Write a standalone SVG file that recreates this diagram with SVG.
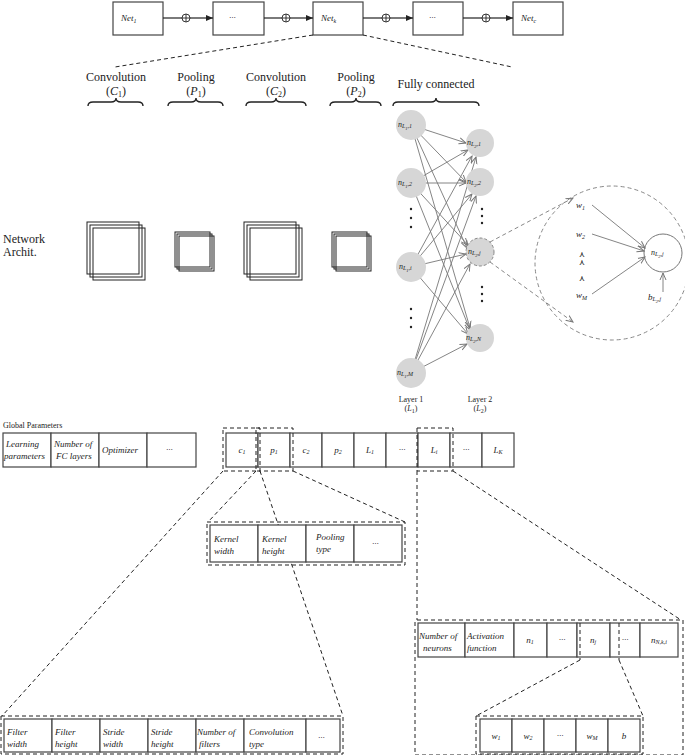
<svg xmlns="http://www.w3.org/2000/svg" width="685" height="755" viewBox="0 0 685 755">
<style>
text{font-family:"Liberation Serif",serif;fill:#222}
.i{font-style:italic;font-size:9px}
.s{font-size:12px}
.b{fill:#fff;stroke:#444;stroke-width:1.2}
.d{fill:none;stroke:#222;stroke-dasharray:4,3;stroke-width:1}
.g{fill:none;stroke:#888;stroke-dasharray:4,3;stroke-width:1}
.e{stroke:#777;stroke-width:0.9;marker-end:url(#ga)}
.n{fill:#d6d6d6}
.sq{fill:none;stroke:#222;stroke-width:1}
.br{fill:none;stroke:#222;stroke-width:1.4}
.nl{font-style:italic;font-size:8px}
</style>
<defs>
<marker id="a" markerWidth="8" markerHeight="8" refX="7" refY="4" orient="auto" markerUnits="userSpaceOnUse"><path d="M0,1 L7,4 L0,7 Z" fill="#222"/></marker>
<marker id="ga" markerWidth="8" markerHeight="8" refX="7" refY="4" orient="auto" markerUnits="userSpaceOnUse"><path d="M0,1 L7,4 L0,7" fill="none" stroke="#777"/></marker>
</defs>
<g id="top">
<rect class="b" x="113" y="2" width="50" height="33"/><text class="i" x="121" y="21">Net<tspan font-size="6" dy="2">1</tspan></text>
<rect class="b" x="213" y="2" width="51" height="33"/><text class="i" x="229" y="20">···</text>
<rect class="b" x="313" y="2" width="50" height="33"/><text class="i" x="321" y="21">Net<tspan font-size="6" dy="2">k</tspan></text>
<rect class="b" x="413" y="2" width="50" height="33"/><text class="i" x="429" y="20">···</text>
<rect class="b" x="513" y="2" width="50" height="33"/><text class="i" x="521" y="21">Net<tspan font-size="6" dy="2">c</tspan></text>
</g>
<g id="connectors" stroke="#222" stroke-width="1.2" fill="none">
<line x1="163" y1="18" x2="182" y2="18"/><line x1="190" y1="18" x2="213" y2="18" marker-end="url(#a)"/>
<line x1="264" y1="18" x2="282" y2="18"/><line x1="290" y1="18" x2="313" y2="18" marker-end="url(#a)"/>
<line x1="363" y1="18" x2="382" y2="18"/><line x1="390" y1="18" x2="413" y2="18" marker-end="url(#a)"/>
<line x1="463" y1="18" x2="482" y2="18"/><line x1="490" y1="18" x2="513" y2="18" marker-end="url(#a)"/>
<g stroke-width="0.9"><circle cx="186" cy="18" r="4"/><path d="M182,18h8M186,14v8"/><circle cx="286" cy="18" r="4"/><path d="M282,18h8M286,14v8"/><circle cx="386" cy="18" r="4"/><path d="M382,18h8M386,14v8"/><circle cx="486" cy="18" r="4"/><path d="M482,18h8M486,14v8"/></g>
<line class="d" x1="313" y1="35" x2="115" y2="67"/><line class="d" x1="363" y1="35" x2="512" y2="67"/>
</g>
<g id="layers">
<text class="s" x="116" y="81" text-anchor="middle">Convolution</text><text class="s" x="116" y="95" text-anchor="middle">(<tspan font-style="italic">C</tspan><tspan font-size="8" dy="2">1</tspan><tspan dy="-2">)</tspan></text>
<text class="s" x="196" y="81" text-anchor="middle">Pooling</text><text class="s" x="196" y="95" text-anchor="middle">(<tspan font-style="italic">P</tspan><tspan font-size="8" dy="2">1</tspan><tspan dy="-2">)</tspan></text>
<text class="s" x="276" y="81" text-anchor="middle">Convolution</text><text class="s" x="276" y="95" text-anchor="middle">(<tspan font-style="italic">C</tspan><tspan font-size="8" dy="2">2</tspan><tspan dy="-2">)</tspan></text>
<text class="s" x="356" y="81" text-anchor="middle">Pooling</text><text class="s" x="356" y="95" text-anchor="middle">(<tspan font-style="italic">P</tspan><tspan font-size="8" dy="2">2</tspan><tspan dy="-2">)</tspan></text>
<text class="s" x="436" y="88" text-anchor="middle">Fully connected</text>
<path class="br" d="M88,106q0,-4 5,-4h18q5,0 5,-4q0,4 5,4h17q5,0 5,4"/>
<path class="br" d="M168,106q0,-4 5,-4h18q5,0 5,-4q0,4 5,4h17q5,0 5,4"/>
<path class="br" d="M246,106q0,-4 5,-4h20q5,0 5,-4q0,4 5,4h20q5,0 5,4"/>
<path class="br" d="M330,106q0,-4 5,-4h16q5,0 5,-4q0,4 5,4h15q5,0 5,4"/>
<path class="br" d="M393,106q0,-4 5,-4h33q5,0 5,-4q0,4 5,4h33q5,0 5,4"/>
<text class="s" x="3" y="243">Network</text><text class="s" x="3" y="256">Archit.</text>
<rect class="sq" x="87" y="222" width="52" height="52"/><rect class="sq" x="90" y="225" width="52" height="52"/><rect class="sq" x="93" y="228" width="52" height="52"/>
<rect class="sq" x="175" y="232" width="35" height="35"/><rect class="sq" x="177" y="234" width="35" height="35"/><rect class="sq" x="179" y="236" width="35" height="35"/>
<rect class="sq" x="244" y="222" width="52" height="52"/><rect class="sq" x="247" y="225" width="52" height="52"/><rect class="sq" x="250" y="228" width="52" height="52"/>
<rect class="sq" x="332" y="232" width="35" height="35"/><rect class="sq" x="334" y="234" width="35" height="35"/><rect class="sq" x="336" y="236" width="35" height="35"/>
</g>
<g id="fc-edges">
<line class="e" x1="411" y1="125" x2="466" y2="143"/><line class="e" x1="411" y1="125" x2="466" y2="182"/><line class="e" x1="411" y1="125" x2="467" y2="248"/><line class="e" x1="411" y1="125" x2="470" y2="328"/>
<line class="e" x1="411" y1="183" x2="468" y2="150"/><line class="e" x1="411" y1="183" x2="466" y2="183"/><line class="e" x1="411" y1="183" x2="468" y2="245"/><line class="e" x1="411" y1="183" x2="470" y2="330"/>
<line class="e" x1="411" y1="267" x2="472" y2="156"/><line class="e" x1="411" y1="267" x2="472" y2="194"/><line class="e" x1="411" y1="267" x2="466" y2="254"/><line class="e" x1="411" y1="267" x2="468" y2="334"/>
<line class="e" x1="411" y1="373" x2="476" y2="157"/><line class="e" x1="411" y1="373" x2="476" y2="196"/><line class="e" x1="411" y1="373" x2="470" y2="264"/><line class="e" x1="411" y1="373" x2="467" y2="344"/>
</g>
<g id="fc-nodes" font-size="8">
<circle class="n" cx="411" cy="125" r="15"/><text class="nl" x="398" y="127">n<tspan font-size="6" dy="1">L</tspan><tspan font-size="4.5" dy="1.5">1</tspan><tspan font-size="6" dy="-1.5">,1</tspan></text>
<circle class="n" cx="411" cy="183" r="15"/><text class="nl" x="398" y="185">n<tspan font-size="6" dy="1">L</tspan><tspan font-size="4.5" dy="1.5">1</tspan><tspan font-size="6" dy="-1.5">,2</tspan></text>
<circle class="n" cx="411" cy="267" r="15"/><text class="nl" x="399" y="269">n<tspan font-size="6" dy="1">L</tspan><tspan font-size="4.5" dy="1.5">1</tspan><tspan font-size="6" dy="-1.5">,i</tspan></text>
<circle class="n" cx="411" cy="373" r="15"/><text class="nl" x="397" y="375">n<tspan font-size="6" dy="1">L</tspan><tspan font-size="4.5" dy="1.5">1</tspan><tspan font-size="6" dy="-1.5">,M</tspan></text>
<circle class="n" cx="480" cy="143" r="14"/><text class="nl" x="467" y="145">n<tspan font-size="6" dy="1">L</tspan><tspan font-size="4.5" dy="1.5">2</tspan><tspan font-size="6" dy="-1.5">,1</tspan></text>
<circle class="n" cx="480" cy="182" r="14"/><text class="nl" x="467" y="184">n<tspan font-size="6" dy="1">L</tspan><tspan font-size="4.5" dy="1.5">2</tspan><tspan font-size="6" dy="-1.5">,2</tspan></text>
<circle class="n" cx="480" cy="252" r="14" stroke="#888" stroke-dasharray="3,2"/><text class="nl" x="468" y="254">n<tspan font-size="6" dy="1">L</tspan><tspan font-size="4.5" dy="1.5">2</tspan><tspan font-size="6" dy="-1.5">,j</tspan></text>
<circle class="n" cx="480" cy="338" r="14"/><text class="nl" x="466" y="340">n<tspan font-size="6" dy="1">L</tspan><tspan font-size="4.5" dy="1.5">2</tspan><tspan font-size="6" dy="-1.5">,N</tspan></text>
<g fill="#222"><circle cx="411" cy="209" r="1.2"/><circle cx="411" cy="218" r="1.2"/><circle cx="411" cy="227" r="1.2"/><circle cx="411" cy="309" r="1.2"/><circle cx="411" cy="318" r="1.2"/><circle cx="411" cy="327" r="1.2"/><circle cx="482" cy="209" r="1.2"/><circle cx="482" cy="216" r="1.2"/><circle cx="482" cy="223" r="1.2"/><circle cx="482" cy="287" r="1.2"/><circle cx="482" cy="294" r="1.2"/><circle cx="482" cy="301" r="1.2"/></g>
<text x="411" y="402" text-anchor="middle" font-size="8">Layer 1</text><text x="411" y="411" text-anchor="middle" font-size="8">(<tspan font-style="italic">L</tspan><tspan font-size="6" dy="1.5">1</tspan><tspan dy="-1.5">)</tspan></text>
<text x="480" y="402" text-anchor="middle" font-size="8">Layer 2</text><text x="480" y="411" text-anchor="middle" font-size="8">(<tspan font-style="italic">L</tspan><tspan font-size="6" dy="1.5">2</tspan><tspan dy="-1.5">)</tspan></text>
</g>
<g id="neuron-zoom" font-size="9">
<circle class="g" cx="612" cy="263" r="77"/>
<line class="g" x1="490" y1="242" x2="573" y2="198" marker-end="url(#ga)"/><line class="g" x1="490" y1="262" x2="573" y2="322" marker-end="url(#ga)"/>
<circle cx="663" cy="253" r="19" fill="#fff" stroke="#777"/><text class="nl" x="651" y="255">n<tspan font-size="6" dy="1">L</tspan><tspan font-size="4.5" dy="1.5">2</tspan><tspan font-size="6" dy="-1.5">,j</tspan></text>
<text x="576" y="208" font-style="italic">w<tspan font-size="6" dy="1.5">1</tspan></text><text x="576" y="237" font-style="italic">w<tspan font-size="6" dy="1.5">2</tspan></text>
<text x="579" y="257" font-size="8">⋏</text><text x="579" y="265" font-size="8">⋏</text><text x="579" y="281" font-size="8">⋏</text>
<text x="576" y="298" font-style="italic">w<tspan font-size="6" dy="1.5">M</tspan></text>
<text x="648" y="300" font-style="italic">b<tspan font-size="6" dy="1">L</tspan><tspan font-size="4.5" dy="1.5">2</tspan><tspan font-size="6" dy="-1.5">,j</tspan></text>
<line class="e" x1="592" y1="205" x2="645" y2="248"/><line class="e" x1="592" y1="234" x2="644" y2="251"/><line class="e" x1="592" y1="294" x2="645" y2="257"/><line class="e" x1="663" y1="292" x2="663" y2="273"/>
</g>
<g id="params" font-size="9">
<text x="3" y="428" font-size="8">Global Parameters</text>
<rect class="b" x="3" y="433" width="48" height="34"/><rect class="b" x="51" y="433" width="48" height="34"/><rect class="b" x="99" y="433" width="48" height="34"/><rect class="b" x="147" y="433" width="49" height="34"/>
<text class="i" x="6" y="447">Learning</text><text class="i" x="4" y="459">parameters</text><text class="i" x="54" y="447">Number of</text><text class="i" x="56" y="459">FC layers</text><text class="i" x="102" y="453">Optimizer</text><text class="i" x="166" y="452">···</text>
<rect class="b" x="226" y="433" width="32" height="34"/><rect class="b" x="258" y="433" width="32" height="34"/><rect class="b" x="290" y="433" width="32" height="34"/><rect class="b" x="322" y="433" width="32" height="34"/><rect class="b" x="354" y="433" width="32" height="34"/><rect class="b" x="386" y="433" width="32" height="34"/><rect class="b" x="418" y="433" width="32" height="34"/><rect class="b" x="450" y="433" width="32" height="34"/><rect class="b" x="482" y="433" width="32" height="34"/>
<g class="i" text-anchor="middle"><text x="242" y="453">c<tspan font-size="6" dy="1">1</tspan></text><text x="274" y="453">p<tspan font-size="6" dy="1">1</tspan></text><text x="306" y="453">c<tspan font-size="6" dy="1">2</tspan></text><text x="338" y="453">p<tspan font-size="6" dy="1">2</tspan></text><text x="370" y="453">L<tspan font-size="6" dy="1">1</tspan></text><text x="402" y="452">···</text><text x="434" y="453">L<tspan font-size="6" dy="1">i</tspan></text><text x="466" y="452">···</text><text x="498" y="453">L<tspan font-size="6" dy="1">K</tspan></text></g>
<rect class="d" x="223" y="428" width="37" height="43"/><rect class="d" x="256" y="428" width="37" height="43"/><rect class="d" x="417" y="428" width="36" height="43"/>
<line class="d" x1="223" y1="471" x2="2" y2="716"/><line class="d" x1="260" y1="471" x2="343" y2="716"/>
<line class="d" x1="256" y1="471" x2="208" y2="522"/><line class="d" x1="293" y1="471" x2="405" y2="522"/>
<line class="d" x1="417" y1="471" x2="417" y2="620"/><line class="d" x1="453" y1="471" x2="681" y2="620"/>
<rect class="d" x="207" y="522" width="198" height="43"/>
<rect class="b" x="210" y="525" width="48" height="37"/><rect class="b" x="258" y="525" width="48" height="37"/><rect class="b" x="306" y="525" width="48" height="37"/><rect class="b" x="354" y="525" width="48" height="37"/>
<text class="i" x="214" y="542">Kernel</text><text class="i" x="214" y="554">width</text><text class="i" x="262" y="542">Kernel</text><text class="i" x="262" y="554">height</text><text class="i" x="316" y="540">Pooling</text><text class="i" x="316" y="552">type</text><text class="i" x="372" y="546">···</text>
<rect class="d" x="1" y="716" width="342" height="38"/>
<rect class="b" x="4" y="719" width="48" height="33"/><rect class="b" x="52" y="719" width="48" height="33"/><rect class="b" x="100" y="719" width="48" height="33"/><rect class="b" x="148" y="719" width="48" height="33"/><rect class="b" x="196" y="719" width="48" height="33"/><rect class="b" x="244" y="719" width="62" height="33"/><rect class="b" x="306" y="719" width="34" height="33"/>
<text class="i" x="7" y="735">Filter</text><text class="i" x="7" y="747">width</text><text class="i" x="55" y="735">Filter</text><text class="i" x="55" y="747">height</text><text class="i" x="103" y="735">Stride</text><text class="i" x="103" y="747">width</text><text class="i" x="151" y="735">Stride</text><text class="i" x="151" y="747">height</text><text class="i" x="197" y="735">Number of</text><text class="i" x="199" y="747">filters</text><text class="i" x="249" y="735">Convolution</text><text class="i" x="249" y="747">type</text><text class="i" x="318" y="740">···</text>
<path class="d" d="M417,620H683V755H415V620"/>
<rect class="b" x="418" y="623" width="47" height="34"/><rect class="b" x="465" y="623" width="49" height="34"/><rect class="b" x="514" y="623" width="33" height="34"/><rect class="b" x="547" y="623" width="30" height="34"/><rect class="b" x="577" y="623" width="33" height="34"/><rect class="b" x="610" y="623" width="30" height="34"/><rect class="b" x="640" y="623" width="38" height="34"/>
<text class="i" x="419" y="639">Number of</text><text class="i" x="423" y="651">neurons</text><text class="i" x="467" y="639">Activation</text><text class="i" x="467" y="651">function</text>
<g class="i" text-anchor="middle"><text x="530" y="643">n<tspan font-size="6" dy="1">1</tspan></text><text x="562" y="642">···</text><text x="593" y="643">n<tspan font-size="6" dy="1">j</tspan></text><text x="625" y="642">···</text><text x="659" y="643">n<tspan font-size="6" dy="1">N,k,i</tspan></text></g>
<line class="d" x1="580" y1="623" x2="580" y2="660"/><line class="d" x1="619" y1="623" x2="619" y2="660"/>
<line class="d" x1="580" y1="660" x2="476" y2="716"/><line class="d" x1="619" y1="660" x2="643" y2="716"/>
<rect class="d" x="476" y="716" width="167" height="38"/>
<rect class="b" x="480" y="719" width="32" height="33"/><rect class="b" x="512" y="719" width="32" height="33"/><rect class="b" x="544" y="719" width="32" height="33"/><rect class="b" x="576" y="719" width="32" height="33"/><rect class="b" x="608" y="719" width="32" height="33"/>
<g class="i" text-anchor="middle"><text x="496" y="739">w<tspan font-size="6" dy="1">1</tspan></text><text x="528" y="739">w<tspan font-size="6" dy="1">2</tspan></text><text x="560" y="738">···</text><text x="592" y="739">w<tspan font-size="6" dy="1">M</tspan></text><text x="624" y="739">b</text></g>
</g>
</svg>
